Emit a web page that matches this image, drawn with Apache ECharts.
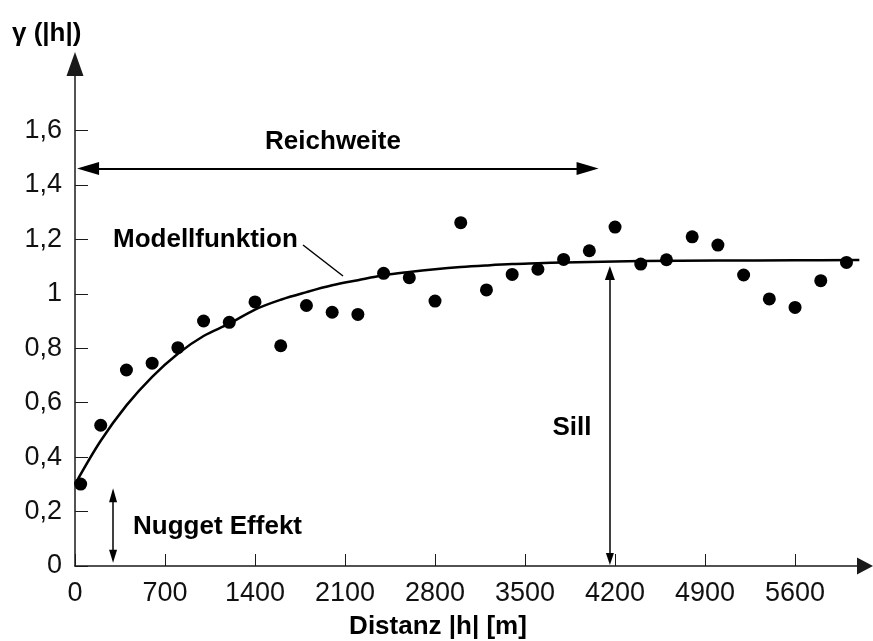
<!DOCTYPE html>
<html>
<head>
<meta charset="utf-8">
<script src="https://cdn.jsdelivr.net/npm/echarts@6/dist/echarts.min.js"></script>
<style>
html,body{margin:0;padding:0;background:#fff;}
#chart{width:873px;height:641px;}
</style>
</head>
<body>
<div id="chart"></div>
<script>
// Empirical semivariogram points: distance |h| [m] and gamma(|h|)
const distances = [44, 200, 400, 600, 800, 1000, 1200, 1400, 1600, 1800, 2000, 2200, 2400, 2600, 2800, 3000,
  3200, 3400, 3600, 3800, 4000, 4200, 4400, 4600, 4800, 5000, 5200, 5400, 5600, 5800, 6000];
const gammaValues = [0.301, 0.517, 0.720, 0.745, 0.802, 0.900, 0.895, 0.970, 0.809, 0.957, 0.932, 0.924, 1.075, 1.059, 0.973, 1.261,
  1.014, 1.071, 1.090, 1.126, 1.158, 1.245, 1.109, 1.125, 1.209, 1.179, 1.069, 0.981, 0.950, 1.048, 1.115];

// Model function
const modelDistances = [0, 200, 400, 600, 800, 1000, 1200, 1400, 1600, 1800, 2000, 2200, 2400, 2600, 2800, 3000,
  3200, 3400, 3600, 3800, 4000, 4400, 5000, 5600, 6100];
const modelValues = [0.30, 0.46, 0.59, 0.695, 0.78, 0.845, 0.89, 0.942, 0.978, 1.006, 1.031, 1.05, 1.068, 1.08, 1.09, 1.098,
  1.104, 1.109, 1.112, 1.115, 1.117, 1.12, 1.122, 1.123, 1.124];

// Axis ticks
const xTickValues = [0, 700, 1400, 2100, 2800, 3500, 4200, 4900, 5600];
const xTickLabels = ['0', '700', '1400', '2100', '2800', '3500', '4200', '4900', '5600'];
const yTickValues = [0, 0.2, 0.4, 0.6, 0.8, 1.0, 1.2, 1.4, 1.6];
const yTickLabels = ['0', '0,2', '0,4', '0,6', '0,8', '1', '1,2', '1,4', '1,6'];

// Annotation arrow tips (data units)
const rangeStart = 16;
const rangeEnd = 4072;
const rangeLevel = 1.46;
const sillDistance = 4160;
const sillBottom = 0.004;
const sillTop = 1.102;
const nuggetDistance = 296;
const nuggetBottom = 0.012;
const nuggetTop = 0.286;

const X_MAX = 6144, Y_MAX = 1.844;
const GRID = {left: 75, right: 8, top: 64, bottom: 75};
const W = 873, H = 641;
const xPerPx = X_MAX / (W - GRID.left - GRID.right);
const yPerPx = Y_MAX / (H - GRID.top - GRID.bottom);

const FONT = 'Liberation Sans, Arial, sans-serif';
const chart = echarts.init(document.getElementById('chart'), null, {renderer: 'canvas'});

const points = distances.map((d, i) => [d, gammaValues[i]]);
const model = modelDistances.map((d, i) => [d, modelValues[i]]);

const axisColor = '#1a1a1a';
function pick(values, labels) {
  return function (v) {
    const i = values.findIndex(t => Math.abs(t - v) < 1e-9);
    return i >= 0 ? labels[i] : '';
  };
}
// triangle symbols are centred on the end point: shift by half their length so the tip lands on the value
function hEnd(x, y, len, w, dir) {
  return {coord: [x + dir * len / 2 * xPerPx, y], symbol: 'triangle', symbolSize: [w, len]};
}
function vEnd(x, y, len, w, dir) {
  return {coord: [x, y + dir * len / 2 * yPerPx], symbol: 'triangle', symbolSize: [w, len]};
}

chart.setOption({
  animation: false,
  backgroundColor: '#ffffff',
  grid: Object.assign({containLabel: false}, GRID),
  xAxis: {
    type: 'value', min: 0, max: X_MAX,
    splitLine: {show: false},
    axisLine: {show: true, lineStyle: {color: axisColor, width: 1.5},
      symbol: ['none', 'triangle'], symbolSize: [17, 16]},
    axisTick: {show: true, inside: true, length: 12, customValues: xTickValues,
      lineStyle: {color: axisColor, width: 1}},
    axisLabel: {show: true, customValues: xTickValues, margin: 14,
      fontFamily: FONT, fontSize: 27, color: '#111', formatter: pick(xTickValues, xTickLabels)}
  },
  yAxis: {
    type: 'value', min: 0, max: Y_MAX,
    splitLine: {show: false},
    axisLine: {show: true, lineStyle: {color: axisColor, width: 1.5},
      symbol: ['none', 'triangle'], symbolSize: [17, 24]},
    axisTick: {show: true, inside: true, length: 13, customValues: yTickValues,
      lineStyle: {color: axisColor, width: 1}},
    axisLabel: {show: true, customValues: yTickValues, margin: 13,
      fontFamily: FONT, fontSize: 27, color: '#111', formatter: pick(yTickValues, yTickLabels)}
  },
  series: [
    {
      type: 'line', data: model, smooth: 0.35, showSymbol: false, silent: true,
      lineStyle: {color: '#000', width: 2.5}, z: 3,
      markLine: {
        silent: true, animation: false,
        label: {show: false},
        lineStyle: {color: '#000', width: 1.5, type: 'solid'},
        data: [
          [Object.assign(hEnd(rangeStart, rangeLevel, 22, 13, 1), {lineStyle: {width: 2}}), hEnd(rangeEnd, rangeLevel, 22, 13, -1)],
          [vEnd(sillDistance, sillBottom, 12, 8, 1), vEnd(sillDistance, sillTop, 14, 10, -1)],
          [vEnd(nuggetDistance, nuggetBottom, 13, 8, 1), vEnd(nuggetDistance, nuggetTop, 14, 8, -1)]
        ]
      }
    },
    {
      type: 'scatter', data: points, symbol: 'circle', symbolSize: 13,
      itemStyle: {color: '#000', opacity: 1}, z: 4, silent: true
    }
  ],
  graphic: [
    {type: 'text', left: 12, top: 21, style: {text: 'γ (|h|)', font: 'bold 26px ' + FONT, fill: '#000'}},
    {type: 'text', x: 333, y: 142, style: {text: 'Reichweite', font: 'bold 26px ' + FONT, fill: '#000', align: 'center', verticalAlign: 'middle'}},
    {type: 'text', x: 113, y: 240, style: {text: 'Modellfunktion', font: 'bold 26px ' + FONT, fill: '#000', align: 'left', verticalAlign: 'middle'}},
    {type: 'line', shape: {x1: 303, y1: 245, x2: 343, y2: 276}, style: {stroke: '#000', lineWidth: 1.5}},
    {type: 'text', x: 572, y: 428, style: {text: 'Sill', font: 'bold 26px ' + FONT, fill: '#000', align: 'center', verticalAlign: 'middle'}},
    {type: 'text', x: 133, y: 527, style: {text: 'Nugget Effekt', font: 'bold 26px ' + FONT, fill: '#000', align: 'left', verticalAlign: 'middle'}},
    {type: 'text', x: 438, y: 627, style: {text: 'Distanz |h| [m]', font: 'bold 26px ' + FONT, fill: '#000', align: 'center', verticalAlign: 'middle'}}
  ]
});
</script>
</body>
</html>
